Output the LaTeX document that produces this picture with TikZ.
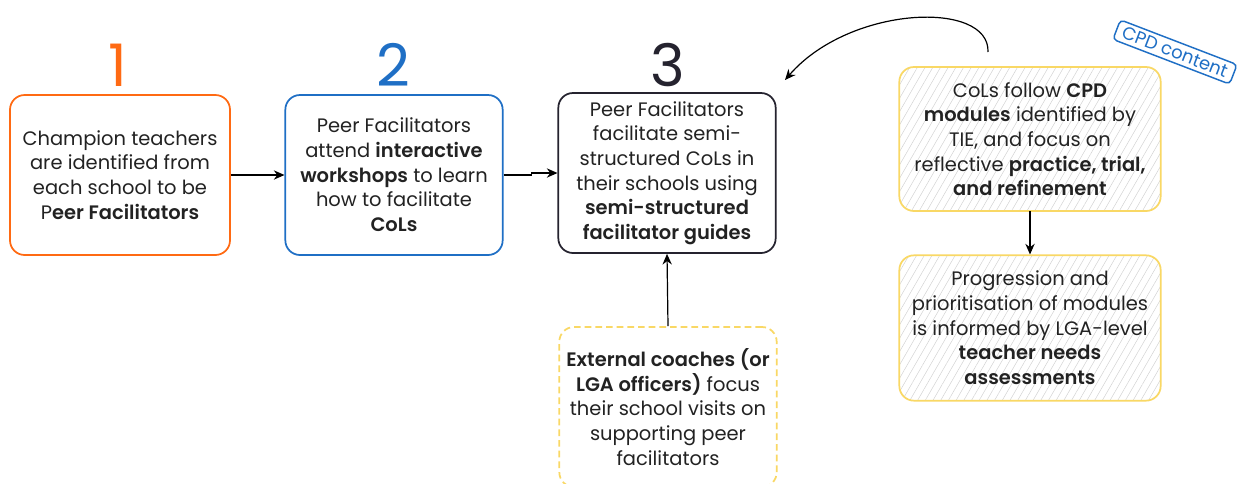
\documentclass[tikz,border=0pt]{standalone}
\usepackage{fontspec}
\setmainfont{Poppins}[BoldFont={Poppins SemiBold}]
\usetikzlibrary{arrows.meta,patterns.meta}
\definecolor{corange}{HTML}{FF6A13}
\definecolor{cblue}{HTML}{1F6FC5}
\definecolor{cdark}{HTML}{25232F}
\definecolor{cyellow}{HTML}{F9D865}
\definecolor{ctext}{HTML}{222222}
\tikzset{
  box/.style={draw, line width=1.3pt, rounded corners=11pt, align=center,
    text=ctext, inner sep=4pt,
    font=\fontsize{14.6}{18.5}\selectfont},
  num/.style={font=\fontsize{44}{44}\selectfont},
  hatch/.style={pattern={Lines[angle=60,distance=5pt,line width=0.35pt]}, pattern color=black!18},
  arr/.style={-{Stealth[length=8pt,width=7pt]}, line width=0.9pt, black},
}
\begin{document}
\begin{tikzpicture}[x=0.75pt,y=-0.75pt]
\useasboundingbox (0,0) rectangle (1241,483);
\clip (0,0) rectangle (1241,483);
\fill[white] (0,0) rectangle (1241,483);

\node[num, text=corange] (h1) at (118,65) {1};
\node[num, text=cblue] (h2) at (393,65) {2};
\node[num, text=cdark] (h3) at (668,65) {3};

\node[box, draw=corange, minimum width=165pt, minimum height=120pt] (n1) at (120,175)
  {Champion teachers\\ are identified from\\ each school to be\\ P\textbf{eer Facilitators}};
\node[box, draw=cblue, minimum width=163pt, minimum height=120pt] (n2) at (394,175)
  {Peer Facilitators\\ attend \textbf{interactive}\\ \textbf{workshops} to learn\\ how to facilitate\\ \textbf{CoLs}};
\node[box, draw=cdark, minimum width=163pt, minimum height=120pt] (n3) at (667,173)
  {Peer Facilitators\\ facilitate semi-\\ structured CoLs in\\ their schools using\\ \textbf{semi-structured}\\ \textbf{facilitator guides}};

\node[box, draw=cyellow, dashed, dash pattern=on 5pt off 3pt, minimum width=163pt, minimum height=120pt] (ext) at (668,407)
  {\textbf{External coaches (or}\\ \textbf{LGA officers)} focus\\ their school visits on\\ supporting peer\\ facilitators};

\node[box, draw=cyellow, hatch, minimum width=196pt, minimum height=108pt] (cpd) at (1030,139)
  {CoLs follow \textbf{CPD}\\ \textbf{modules} identified by\\ TIE, and focus on\\ reflective \textbf{practice, trial,}\\ \textbf{and refinement}};
\node[box, draw=cyellow, hatch, minimum width=196pt, minimum height=109pt] (prog) at (1030,328)
  {Progression and\\ prioritisation of modules\\ is informed by LGA-level\\ \textbf{teacher needs}\\ \textbf{assessments}};

\node[draw=cblue, line width=1.1pt, rounded corners=3pt, rotate=-21, text=cblue,
  font=\fontsize{13.5}{13.5}\selectfont, inner xsep=5pt, inner ysep=3pt] (tag) at (1175,52) {CPD content};

\draw[arr] (n1.east) -- (n2.west);
\draw[arr] (n2.east) -- ++(28,0) coordinate (m) |- (n3.west);
\draw[arr] (ext.north) -- (n3.south);
\draw[arr] (cpd.south) -- (prog.north);
\coordinate (cs) at (988,52);
\coordinate (ce) at (785,80);
\draw[arr] (cs) .. controls (990,0) and (850,5) .. (ce);
\end{tikzpicture}
\end{document}
